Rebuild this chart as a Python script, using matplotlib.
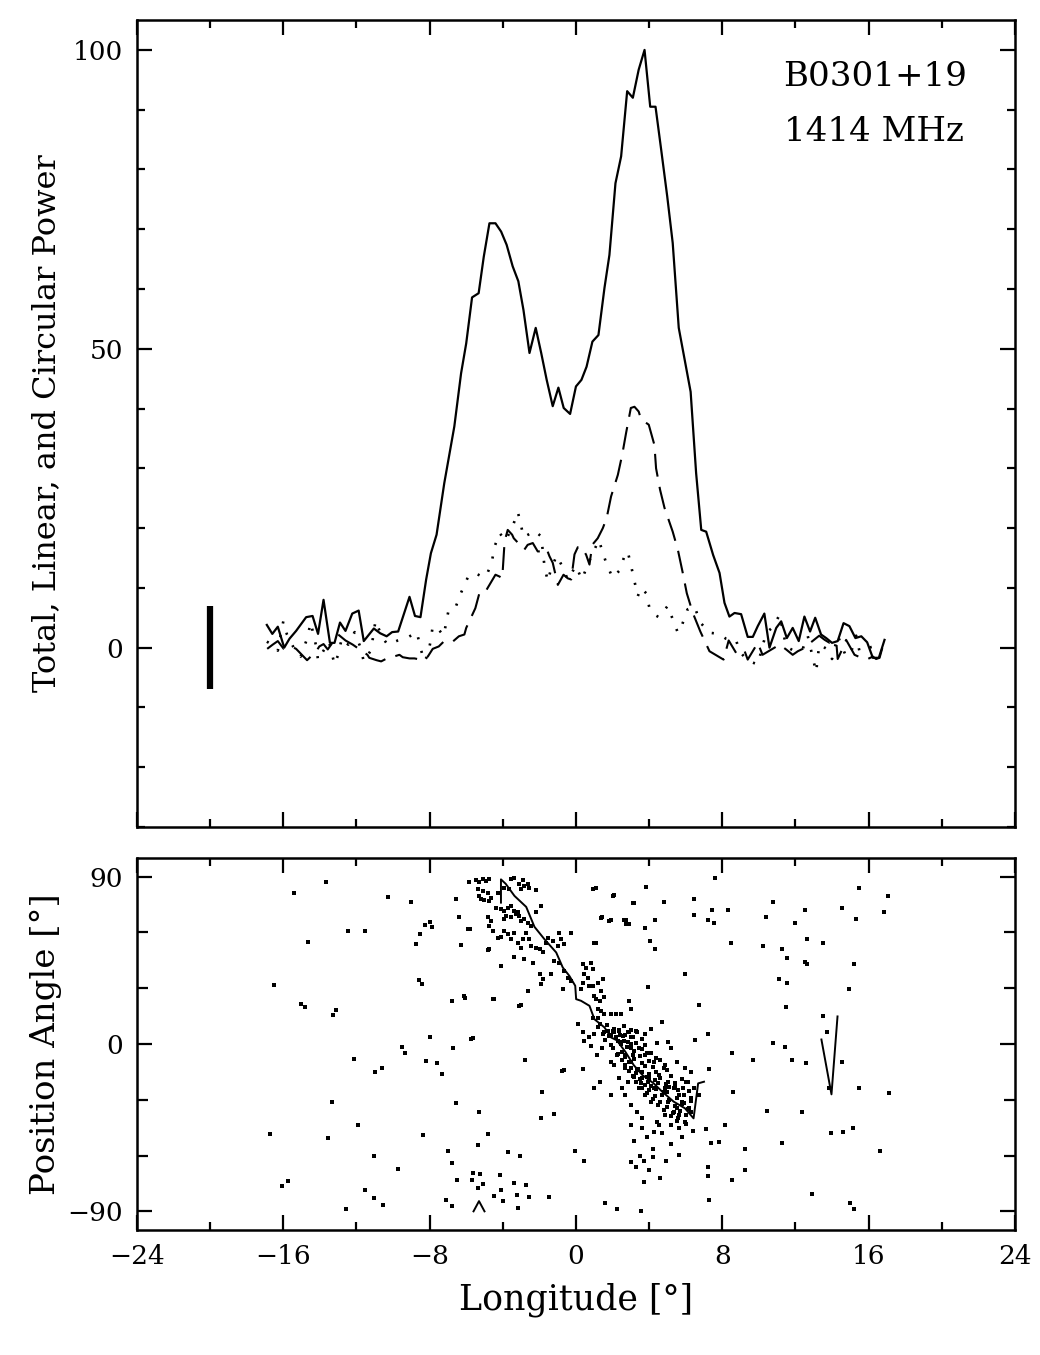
import numpy as np
import matplotlib
matplotlib.use("Agg")
import matplotlib.pyplot as plt
from matplotlib.ticker import MultipleLocator, FixedLocator

# ---- pulse profile (longitude in deg, power) ----
tot_lon = [-16.9, -16.6, -16.3, -15.95, -15.66, -15.3, -14.75, -14.4, -14.1, -13.8,
           -13.45, -13.2, -12.9, -12.6, -12.23, -11.88, -11.6, -11.05, -10.7, -10.35,
           -10.05, -9.72, -9.1, -8.8, -8.5, -8.19, -7.93, -7.62, -7.2, -6.65,
           -6.28, -6.0, -5.68, -5.32, -5.04, -4.73, -4.4, -4.09, -3.79, -3.46,
           -3.15, -2.87, -2.54, -2.2, -1.9, -1.6, -1.27, -0.96, -0.67, -0.32,
           0.0, 0.3, 0.58, 0.9, 1.23, 1.56, 1.83, 2.16, 2.47, 2.8,
           3.11, 3.43, 3.75, 4.06, 4.35, 4.66, 4.99, 5.29, 5.62, 5.93,
           6.27, 6.57, 6.85, 7.12, 7.5, 7.85, 8.12, 8.39, 8.67, 9.03,
           9.39, 9.67, 9.94, 10.3, 10.58, 10.95, 11.22, 11.53, 11.85, 12.18,
           12.49, 12.8, 13.08, 13.4, 13.68, 14.0, 14.31, 14.63, 14.95, 15.28,
           15.6, 15.92, 16.23, 16.56, 16.87]
tot_val = [3.8, 2.3, 3.5, 0.0, 1.5, 2.8, 5.1, 5.3, 2.3, 8.0,
           0.8, 0.8, 4.2, 2.8, 5.7, 6.2, 1.1, 3.2, 2.4, 1.9,
           2.6, 2.7, 8.5, 5.3, 5.1, 11.4, 15.8, 18.9, 27.5, 37.0,
           45.9, 50.9, 58.6, 59.3, 65.4, 71.0, 71.0, 69.6, 67.4, 63.8,
           61.3, 56.5, 49.3, 53.5, 49.3, 44.8, 40.4, 43.5, 40.1, 39.1,
           43.7, 44.8, 47.0, 51.2, 52.3, 60.2, 65.7, 77.7, 82.2, 93.1,
           92.0, 96.7, 100.0, 90.5, 90.5, 83.3, 75.5, 67.7, 53.5, 48.4,
           42.8, 29.2, 19.7, 19.4, 15.5, 12.5, 7.5, 5.2, 5.8, 5.6,
           1.8, 1.8, 3.6, 5.7, 0.0, 3.3, 4.4, 1.6, 3.3, 1.1,
           5.2, 2.7, 5.0, 2.2, 1.6, 0.8, 1.1, 4.1, 3.6, 1.6,
           1.9, 0.9, -1.7, -1.7, 1.3]

lin_lon = [-16.88, -16.58, -16.3, -15.98, -15.43, -15.3, -14.7, -14.2, -14.03, -13.8,
           -13.57, -13.0, -12.6, -12.2, -11.4, -11.3, -10.9, -10.65, -10.4, -9.65,
           -9.47, -9.1, -8.83, -8.5, -8.1, -7.83, -7.5, -7.2, -6.72, -6.4,
           -6.1, -6.0, -5.5, -5.28, -5.0, -4.4, -4.18, -4.03, -3.9, -3.73,
           -3.49, -3.4, -2.82, -2.64, -2.36, -2.09, -1.8, -1.6, -1.45, -1.27,
           -0.99, -0.68, -0.45, -0.26, -0.08, 0.1, 0.34, 0.56, 0.74, 0.89,
           1.19, 1.47, 1.68, 1.92, 2.29, 2.53, 2.74, 3.0, 3.2, 3.43,
           3.56, 3.98, 4.29, 4.38, 4.6, 4.84, 5.29, 5.57, 5.84, 6.06,
           6.39, 6.8, 7.3, 8.07, 8.35, 8.76, 9.2, 9.39, 9.94, 10.2,
           11.13, 11.49, 11.85, 12.13, 12.4, 13.3, 13.6, 13.87, 14.23, 14.31,
           14.6, 14.77, 15.23, 15.6, 15.95, 16.23, 16.41, 16.6, 16.87]
lin_val = [-0.2, 0.5, 1.1, -0.2, 0.0, -0.2, -2.1, -0.6, 0.2, 0.6,
           -0.3, 2.2, 1.2, 0.5, -1.2, -1.7, -2.1, -2.3, -1.9, -1.2,
           -1.6, -1.8, -1.8, -2.0, -1.5, -0.2, 0.2, 1.1, 1.05, 1.9,
           2.2, 3.3, 6.6, 9.1, 9.1, 12.2, 11.9, 11.6, 17.8, 19.7,
           18.9, 18.3, 16.4, 17.2, 17.5, 16.1, 16.1, 16.5, 15.3, 14.2,
           10.5, 12.2, 11.6, 11.4, 15.6, 16.8, 16.8, 15.5, 13.9, 17.2,
           18.3, 20.0, 21.7, 25.3, 28.9, 32.3, 35.9, 40.1, 40.3, 39.5,
           38.2, 37.3, 33.9, 30.0, 26.4, 23.4, 19.4, 16.4, 12.5, 9.1,
           5.8, 2.7, -0.6, -2.0, 1.2, -0.9, -0.4, -2.0, 0.8, -1.2,
           0.5, -0.3, -1.2, -0.6, -0.2, 2.0, 1.3, 0.8, 1.05, -1.9,
           0.0, 1.3, -1.2, -1.7, -1.9, -1.5, -1.9, -1.7, 1.3]

circ_lon = [-16.9, -16.6, -16.3, -16.0, -15.8, -15.4, -15.05, -14.7, -14.5, -14.2,
            -14.1, -13.8, -13.5, -13.2, -13.0, -12.8, -12.45, -12.1, -11.8, -11.6,
            -11.2, -10.96, -10.6, -10.3, -9.74, -9.2, -8.7, -8.5, -8.3, -8.1,
            -7.95, -7.83, -7.5, -7.23, -7.1, -6.95, -6.55, -6.28, -5.92, -5.55,
            -5.2, -4.91, -4.6, -4.46, -4.18, -3.85, -3.46, -3.18, -3.03, -2.87,
            -2.55, -2.27, -1.9, -1.72, -1.54, -1.36, -1.05, -0.75, -0.45, 0.0,
            0.32, 0.8, 1.25, 1.65, 2.0, 2.38, 2.65, 2.83, 3.02, 3.2,
            3.38, 3.56, 3.84, 4.02, 4.3, 4.53, 5.02, 5.26, 5.57, 5.8,
            6.1, 6.48, 6.8, 7.3, 7.8, 8.2, 8.48, 8.75, 8.94, 9.39,
            9.94, 10.4, 10.8, 11.13, 11.49, 11.95, 12.4, 12.67, 12.95, 13.13,
            13.3, 13.77, 14.0, 14.31, 14.77, 15.1, 15.32, 15.5, 15.77, 16.41]
circ_val = [1.0, 0.5, -0.5, 4.4, 2.2, -0.2, -1.5, 1.5, 4.2, 0.2,
            -2.1, -0.5, 1.0, -2.8, -1.2, 1.6, 0.5, 2.6, 0.2, -2.3,
            -0.4, 4.5, 1.8, 0.5, 1.2, 1.7, 2.6, 0.0, -2.3, -1.3,
            1.05, 3.6, 3.0, 2.0, 4.1, 6.5, 7.0, 9.2, 11.7, 12.5,
            12.0, 11.9, 14.3, 16.8, 19.2, 17.9, 20.3, 22.7, 20.9, 18.5,
            19.0, 19.6, 18.6, 13.6, 11.1, 13.2, 15.4, 13.6, 11.4, 13.7,
            11.4, 15.0, 18.0, 14.2, 11.7, 12.9, 15.3, 16.1, 13.6, 11.1,
            8.6, 10.0, 9.1, 6.6, 5.5, 5.1, 7.0, 5.0, 2.5, 3.8,
            6.4, 6.9, 4.2, 2.5, 2.3, 1.5, 1.3, 1.3, -0.6, -2.2,
            -2.8, 2.5, 3.5, 5.5, 0.2, -0.6, -0.2, 2.0, -1.7, -4.1,
            0.5, -0.3, -1.9, 2.0, -1.5, -0.2, 2.0, -0.6, -0.2, 0.3]

errbar_lon = -20.0
errbar_half = 7.0

# ---- position angle (deg) ----
pa_line_lon = [-4.1, -4.1, -3.84, -3.36, -2.72, -2.27, -1.72, -1.08, -0.72, -0.36,
               -0.04, 0.01, 0.28, 0.74, 1.01, 1.56, 1.92, 2.23, 2.7, 3.16,
               3.63, 4.25, 4.72, 5.34, 5.96, 6.43, 6.68, 7.0]
pa_line_val = [76.0, 88.5, 86.1, 79.6, 73.7, 63.0, 56.3, 49.2, 41.1, 36.6,
               31.3, 24.1, 23.2, 20.5, 13.3, 8.9, 3.5, 2.0, -4.2, -11.4,
               -16.7, -21.2, -25.7, -31.0, -34.6, -40.0, -21.2, -20.3]
pa_line2_lon = [13.42, 13.97, 14.3]
pa_line2_val = [2.4, -27.1, 14.8]
pa_line3_lon = [-5.6, -5.3, -5.0]
pa_line3_val = [-90.0, -84.5, -90.0]

pa_dot_lon = [
    # sparse points
    -13.64, -15.44, -10.28, -9.03, -6.58, 1.08, 2.07, 3.85, 7.61, 15.45,
    17.07, 3.16, 4.81, 6.43, 7.46, 8.3, 10.79, 12.5, 14.52, 16.85,
    6.43, 1.45, 1.92, 2.76, 2.91, 3.78, 4.34, 7.2, 7.52, 10.41,
    11.97, 15.3, -7.98, -7.88, -8.26, -6.42, -5.77, -12.46, -11.55, -8.5,
    -14.64, -8.72, -6.27, -4.77, 1.08, 4.03, 4.34, 8.45, 10.23, 11.25,
    11.56, 12.65, 13.52, 12.5, 12.65, 15.21, 5.96, 11.1, 11.56, 14.92,
    3.94, -16.53, -8.6, -8.41, -15.04, -14.82, -13.11, -13.27, -6.79, -6.08,
    -4.46, -3.03, 6.74, 11.47, 13.52, 13.74, 14.52, -7.98, -5.64, -9.5,
    -9.35, -6.7, -12.15, -8.19, -7.57, -10.62, -11.0, -7.35, -2.81, -0.66,
    -0.75, 0.36, 7.3, 6.52, 7.2, 8.54, 9.7, 10.79, 11.41, 11.81,
    12.59, 13.83, 15.45, 17.1, 10.47, 12.34, 13.96, 14.58, 15.14, 8.61,
    8.14, 7.83, 7.36, 7.11, 9.23, 8.55, 9.23, 7.2, 7.2, 11.25,
    12.9, 16.63, 14.99, 15.2, 7.3, 3.54, 2.23, 1.61, 5.65, -0.05,
    0.42, -1.91, -1.19, -1.88, -5.3, -4.83, -5.33, -3.74, -3.06, -7.01,
    -6.79, -6.48, -6.58, -9.75, -11.06, -11.93, -13.58, -13.33, -16.75, -16.07,
    -15.72, -12.55, -11.52, -11.06, -10.53, -8.35,
    # cluster near -90
    -7.10, -6.79, -5.70, -5.61, -5.33, -5.24, -5.08, -4.46, -4.15, -4.09,
    -4.0, -3.37, -3.22, -3.15, -2.75, -2.59, -1.50,
    # upper band
    -5.82, -5.46, -5.28, -5.09, -4.91, -4.73, -5.37, -5.09, -4.82, -5.28,
    -5.00, -4.73, -4.64, -5.19, -3.54, -3.36, -3.09, -2.91, -2.82, -2.63,
    -2.54, -2.18, -3.00, -4.27, -3.91, -3.64, -4.37, -4.09, -3.91, -3.73,
    -3.54, -3.36, -3.27, -3.18, -3.09, -3.82, -3.95, -3.54, -4.82, -4.64,
    -4.73, -4.55, -4.27, -4.09, -3.91, -3.73, -3.54, -3.36, -3.18, -2.91,
    -2.72, -2.54, -3.00, -2.82, -2.63, -2.45, -2.18, -1.90, -5.91, -4.82,
    -4.09, -3.36, -2.82, -3.00, -2.45, -2.18, -1.99, -1.81, -1.63, -1.54,
    -1.27, -0.99, -0.81, -0.63, -0.26, -0.90, -2.36, -1.99, -1.81, -1.90,
    -1.36, -1.18, -0.90, -0.63, -0.45, -0.26, -2.63, 0.37, 0.56, 0.83,
    0.92, 0.46, 0.65, 0.37, 0.74, 0.92, 1.19, 1.47, 1.38, -0.72,
    0.28, 0.98, 1.10, 1.29, 1.56, 1.19, 1.38, 1.56, 1.19, 0.92,
    1.92, 2.20, 2.47, 2.92, 3.02, 3.11, 0.92, 2.01, 1.38, 1.83,
    2.65, 2.74, 1.01, 0.10, 0.37, 0.74, 1.01, 1.29, 1.56, 1.74,
    1.83, 2.10, 2.38, 2.56, 2.83, 3.02, 2.29, 2.47, 2.83, 3.02,
    0.83, 0.46, -4.55, -3.09, -5.73, -6.10,
    # lower band
    1.92, 2.38, 2.70, 3.01, 3.32, 3.78, 4.10, 4.72, 4.41, 5.03,
    5.18, 5.50, 5.96, 6.27, 6.12, 6.43, 6.74, 5.81, 5.50, 4.87,
    4.41, 3.63, 3.32, 3.01, 2.70, 2.54, 2.85, 2.38, 2.07, 1.92,
    2.23, 2.70, 3.01, 3.32, 3.63, 3.94, 4.25, 4.72, 5.03, 5.34,
    5.65, 5.96, 6.27, 4.10, 3.78, 3.47, 4.56, 5.03, 5.34, 5.65,
    4.87, 4.25, 3.78, 3.47, 3.01, 1.45, 1.14, 0.98, 1.92, 1.30,
    3.01, 3.63, 4.25, 4.56, 5.18, 5.65, 2.70, 3.16, 3.54, 4.00,
    4.50, 4.87, 5.43, 5.87, 6.27, 4.19, 3.72, 3.01, 3.16, 3.9,
    4.7, 5.2, 5.8, 6.4, 3.5, 4.2, 4.9, 3.3, 4.0, 4.6, 3.7,
    # lower band, dense core
    1.2, 1.7, 2.1, 2.6, 1.5, 2.0, 2.4, 2.9, 3.3, 1.6,
    2.2, 2.6, 3.1, 3.6, 1.9, 2.4, 2.9, 3.3, 3.8, 2.0,
    2.5, 2.8, 3.2, 3.6, 4.1, 2.3, 2.7, 3.1, 3.5, 3.9,
    4.4, 2.5, 2.9, 3.2, 3.6, 4.0, 4.6, 2.7, 3.0, 3.4,
    3.8, 4.2, 4.8, 2.9, 3.3, 3.6, 4.0, 4.4, 5.0, 3.1,
    3.5, 3.9, 4.3, 4.6, 5.2, 5.8, 3.3, 3.8, 4.1, 4.5,
    4.9, 5.4, 6.0, 3.6, 4.0, 4.4, 4.8, 5.1, 5.6, 6.2,
    3.9, 4.3, 4.7, 5.0, 5.5, 5.9, 4.2, 4.6, 5.1, 5.5,
    5.9, 6.3, 4.5, 5.0, 5.4, 5.8, 6.2, 4.8, 5.3, 5.7,
    6.1, 5.2, 5.6, 6.0, 5.5, 6.0]
pa_dot_val = [
    87.3, 81.2, 78.9, 76.2, 78.0, 83.7, 80.3, 84.6, 89.3, 83.7,
    79.8, 75.9, 76.2, 78.0, 72.3, 72.1, 76.2, 72.1, 73.0, 70.9,
    69.6, 68.2, 66.8, 66.9, 64.6, 62.5, 66.4, 66.9, 65.1, 68.2,
    65.1, 67.3, 65.5, 62.8, 63.7, 68.2, 61.9, 61.0, 61.0, 58.9,
    54.8, 53.5, 53.4, 50.9, 54.4, 55.1, 51.2, 54.4, 52.5, 51.2,
    46.2, 56.2, 54.4, 44.0, 43.2, 42.8, 37.8, 35.1, 32.8, 29.4,
    30.6, 31.5, 34.6, 32.4, 21.4, 19.9, 18.1, 15.5, 23.1, 24.9,
    24.0, 20.8, 20.8, 19.9, 15.1, 6.5, -9.6, 3.8, 3.3, -1.9,
    -4.6, -2.4, -8.1, -9.0, -10.5, -12.8, -15.3, -16.4, -8.7, -14.0,
    -14.6, -13.5, -13.5, 2.0, 5.1, -5.1, -8.7, 0.3, -1.9, -8.7,
    -10.5, -23.5, -23.9, -26.2, -35.9, -36.4, -48.0, -47.1, -45.0, -26.0,
    -43.5, -52.5, -53.4, -45.7, -56.6, -73.4, -67.7, -66.2, -71.2, -53.4,
    -80.5, -57.8, -85.5, -88.8, -84.1, -89.7, -88.8, -85.5, -59.6, -57.3,
    -62.8, -39.6, -37.8, -25.7, -36.4, -48.4, -54.3, -58.2, -60.0, -57.5,
    -64.1, -73.0, -31.6, -67.3, -60.0, -43.5, -50.7, -31.4, -48.5, -76.6,
    -73.6, -88.6, -78.4, -82.9, -86.8, -48.9,
    -83.8, -87.3, -73.0, -69.5, -77.5, -70.0, -75.4, -82.0, -70.4, -78.4,
    -84.7, -74.8, -81.1, -88.2, -75.7, -82.5, -82.5,
    87.3, 88.0, 87.3, 88.6, 87.7, 88.6, 83.2, 82.3, 81.4, 79.6,
    77.3, 76.9, 78.7, 77.8, 88.6, 89.1, 85.9, 88.0, 85.0, 86.2,
    84.1, 82.7, 83.2, 81.4, 84.1, 83.2, 73.3, 72.4, 71.6, 73.3,
    74.2, 71.6, 69.8, 70.7, 68.9, 68.9, 67.1, 68.0, 68.0, 66.2,
    63.5, 60.8, 57.2, 57.6, 60.8, 59.0, 56.3, 59.9, 54.5, 56.3,
    59.9, 56.3, 66.2, 67.1, 65.3, 63.5, 70.7, 74.2, 61.7, 50.4,
    42.0, 46.8, 45.6, 51.8, 52.7, 51.8, 51.0, 49.2, 54.5, 57.2,
    55.4, 52.7, 56.3, 53.6, 59.9, 59.9, 43.8, 37.5, 34.8, 32.1,
    37.5, 44.7, 43.8, 39.3, 35.7, 33.9, 28.6, 42.9, 41.1, 43.8,
    40.2, 37.5, 35.7, 33.0, 31.2, 31.2, 33.0, 34.8, 28.6, 29.5,
    29.5, 25.9, 24.1, 23.2, 25.0, 18.7, 17.8, 16.0, 14.2, 14.2,
    16.0, 16.0, 16.0, 23.2, 18.7, 76.0, 83.2, 79.6, 67.6, 66.2,
    66.5, 64.4, 54.5, 10.7, 6.2, 3.5, 5.3, 10.7, 6.2, 7.1,
    4.4, 6.2, 7.1, 4.4, 6.2, 3.5, 1.7, -0.1, 0.8, -0.1,
    -1.0, 1.7, 24.1, 20.5, 2.6, 25.9,
    4.7, 7.4, 4.7, 7.4, 6.5, 5.6, 8.3, 11.9, 0.3, 1.2,
    -2.4, -9.6, -13.1, -14.9, -20.3, -23.9, -27.4, -31.0, -34.6, -38.2,
    -41.7, -40.0, -36.4, -32.8, -27.4, -23.9, -20.3, -18.5, -11.4, -9.6,
    -6.0, -6.0, -9.6, -14.0, -18.5, -20.3, -23.9, -27.4, -31.0, -36.4,
    -38.2, -41.7, -36.4, -31.0, -27.4, -23.9, -16.7, -20.3, -23.9, -27.4,
    -11.4, -9.6, -6.0, -2.4, -2.4, -2.4, -6.0, -23.9, -27.4, -20.3,
    -43.5, -45.3, -47.1, -43.5, -43.5, -45.3, -13.1, -17.6, -21.2, -18.5,
    -21.2, -23.9, -21.2, -23.9, -29.2, -56.4, -63.2, -63.6, -52.0, -50.0,
    -48.0, -54.0, -50.0, -47.0, -60.0, -61.0, -63.0, -66.0, -68.0, -72.0, -74.0,
    9.0, 10.2, 8.1, 9.6, 5.4, 6.8, 4.9, 6.3, 7.2, 2.1,
    3.6, 1.8, 3.9, 2.4, -0.6, 0.9, -1.4, 0.4, -0.8, -2.3,
    -4.1, -1.6, -3.7, -2.6, -4.6, -5.3, -7.0, -5.8, -6.6, -4.9,
    -7.4, -8.4, -9.9, -8.0, -10.3, -9.1, -8.6, -11.2, -12.8, -13.6,
    -11.7, -12.4, -13.1, -14.3, -15.8, -14.9, -16.4, -15.2, -14.0, -17.3,
    -18.9, -17.6, -19.5, -18.1, -17.0, -18.6, -20.4, -21.8, -22.5, -20.9,
    -21.6, -22.9, -20.7, -23.6, -25.0, -24.3, -25.6, -23.1, -24.7, -25.3,
    -26.5, -28.0, -27.2, -26.1, -28.8, -27.4, -29.6, -31.2, -30.4, -29.0,
    -31.9, -30.6, -32.7, -34.0, -33.1, -32.2, -34.6, -35.4, -37.1, -36.2,
    -35.0, -38.6, -39.8, -38.0, -41.6, -42.9]

ink = "black"
plt.rcParams["font.family"] = ["DejaVu Serif"]
fig = plt.figure(figsize=(10.4, 13.55), dpi=100)

ax1 = fig.add_axes([0.1317, 0.3897, 0.8442, 0.5955])
ax2 = fig.add_axes([0.1317, 0.0923, 0.8442, 0.2745])

ax1.plot(tot_lon, tot_val, color=ink, lw=1.6)
ax1.plot(lin_lon, lin_val, color=ink, lw=1.5, dashes=(11, 5))
ax1.plot(circ_lon, circ_val, color=ink, lw=1.9, dashes=(0.8, 4.5), dash_capstyle="butt")
ax1.plot([errbar_lon, errbar_lon], [-errbar_half, errbar_half], color=ink, lw=4.5,
         solid_capstyle="butt")

ax1.text(11.3, 95.5, "B0301+19", fontsize=24.5, va="center", ha="left")
ax1.text(11.4, 86.2, "1414 MHz", fontsize=24.5, va="center", ha="left")

ax1.set_xlim(-24, 24)
ax1.set_ylim(-30, 105)
ax1.yaxis.set_major_locator(FixedLocator([0, 50, 100]))
ax1.yaxis.set_minor_locator(MultipleLocator(10))
ax1.set_ylabel("Total, Linear, and Circular Power", fontsize=23)
ax1.yaxis.set_label_coords(-0.085, 0.5)
ax1.tick_params(labelbottom=False)

ax2.plot(pa_dot_lon, pa_dot_val, ls="none", marker="s", ms=2.7, mew=0, color=ink)
ax2.plot(pa_line_lon, pa_line_val, color=ink, lw=1.4)
ax2.plot(pa_line2_lon, pa_line2_val, color=ink, lw=1.4)
ax2.plot(pa_line3_lon, pa_line3_val, color=ink, lw=1.4)
ax2.set_xlim(-24, 24)
ax2.set_ylim(-100, 100)
ax2.yaxis.set_major_locator(FixedLocator([-90, 0, 90]))
ax2.yaxis.set_minor_locator(MultipleLocator(30))
ax2.set_ylabel("Position Angle [°]", fontsize=24.5)
ax2.yaxis.set_label_coords(-0.085, 0.5)
ax2.set_xlabel("Longitude [°]", fontsize=25)
ax2.xaxis.set_label_coords(0.5, -0.14)

for ax in (ax1, ax2):
    ax.xaxis.set_major_locator(MultipleLocator(8))
    ax.xaxis.set_minor_locator(MultipleLocator(4))
    ax.tick_params(which="both", direction="in", top=True, right=True,
                   width=1.6, labelsize=19, pad=10)
    ax.tick_params(which="major", length=11)
    ax.tick_params(which="minor", length=6)
    for s in ax.spines.values():
        s.set_linewidth(1.8)

ax2.tick_params(axis="y", which="minor", length=8)

fig.savefig("out.png", dpi=100)
